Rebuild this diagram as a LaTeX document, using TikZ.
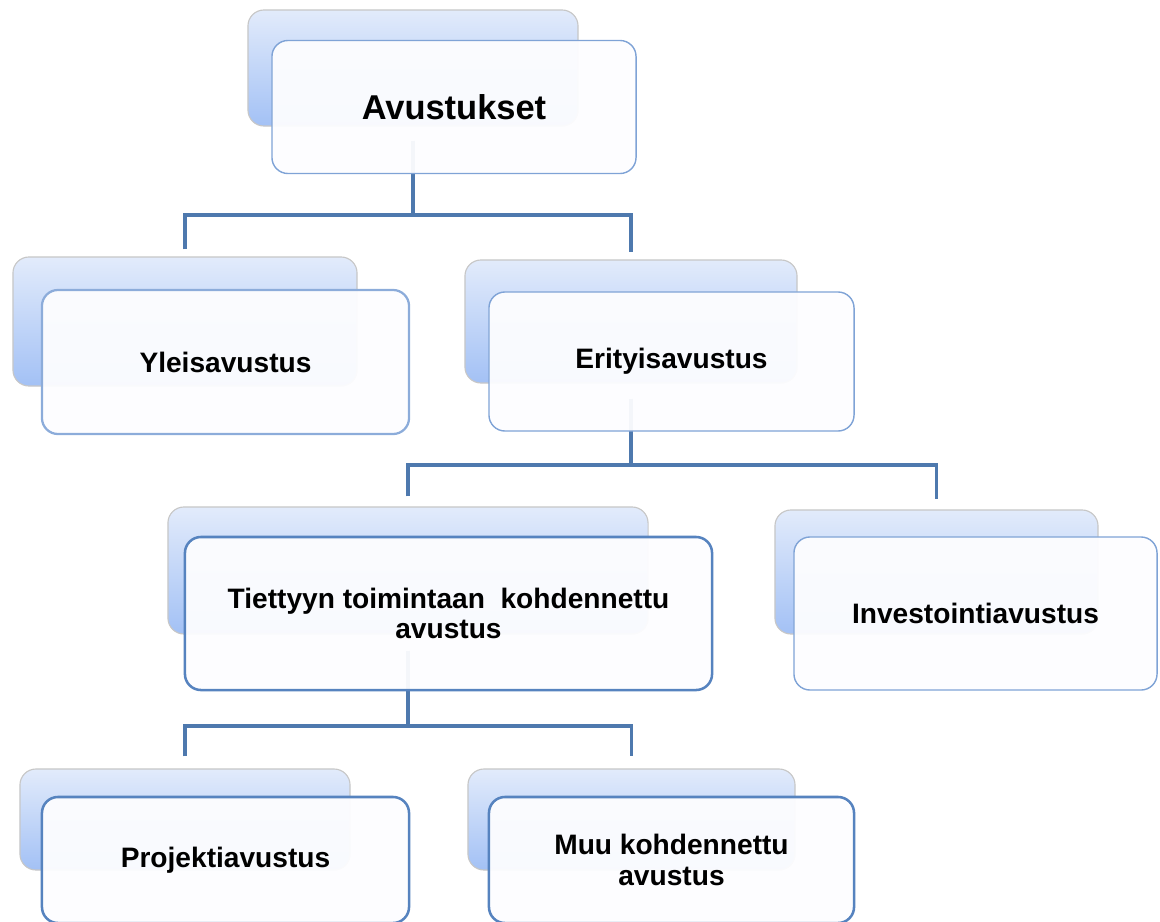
\documentclass[tikz,border=0pt]{standalone}
\usepackage{fontspec}
\setmainfont{Liberation Sans}
\usetikzlibrary{calc}

\definecolor{backtop}{HTML}{E2EBFB}
\definecolor{backbot}{HTML}{A3C1F5}
\definecolor{frontfill}{HTML}{FDFDFF}
\definecolor{lineblue}{HTML}{4E79AE}
\definecolor{edgelight}{HTML}{7FA3D6}
\definecolor{edgedark}{HTML}{5683BF}

\tikzset{
	backbox/.style={rounded corners=0.4cm, draw=black!22, line width=0.8pt, top color=backtop, bottom color=backbot},
	frontbox/.style={rounded corners=0.4cm, draw=edgelight, line width=1pt, fill=frontfill, fill opacity=0.95, text opacity=1, align=center, font=\bfseries\fontsize{20}{21.5}\selectfont},
	darkbox/.style={frontbox, draw=edgedark, line width=1.8pt},
	conn/.style={draw=lineblue, line width=2.3pt}
}

\begin{document}
\begin{tikzpicture}[x=0.025cm, y=-0.025cm]
			%%%%% START %%%%%
			
			\useasboundingbox (0,0) rectangle (1160,922);
			\clip (0,0) rectangle (1160,922);
			
			% back boxes
			\node[backbox, minimum width=8.25cm, minimum height=2.9cm] (avuB) at (413,68) {};
			\node[backbox, minimum width=8.6cm, minimum height=3.225cm] (yleB) at (185,321.5) {};
			\node[backbox, minimum width=8.3cm, minimum height=3.075cm] (eriB) at (631,321.5) {};
			\node[backbox, minimum width=12cm, minimum height=3.175cm] (tieB) at (408,570.5) {};
			\node[backbox, minimum width=8.075cm, minimum height=3.1cm] (invB) at (936.5,572) {};
			\node[backbox, minimum width=8.25cm, minimum height=2.525cm] (proB) at (185,819.5) {};
			\node[backbox, minimum width=8.175cm, minimum height=2.525cm] (muuB) at (631.5,819.5) {};
			
			% bus heights
			\coordinate (bus1) at (0,215);
			\coordinate (bus2) at (0,465);
			\coordinate (bus3) at (0,726);
			
			% connectors
			\draw[conn] ($(avuB.south)+(0,14)$) -- (avuB.south |- bus1);
			\draw[conn] ($(yleB.north)+(0,-7)$) |- (bus1 -| eriB.north) -- ($(eriB.north)+(0,-7)$);
			
			\draw[conn] ($(eriB.south)+(0,15)$) -- (eriB.south |- bus2);
			\draw[conn] ($(tieB.north)+(0,-10)$) |- (bus2 -| invB.north) -- ($(invB.north)+(0,-10)$);
			
			\draw[conn] ($(tieB.south)+(0,16)$) -- (tieB.south |- bus3);
			\draw[conn] ($(proB.north)+(0,-12)$) |- (bus3 -| muuB.north) -- ($(muuB.north)+(0,-12)$);
			
			% front boxes
			\node[frontbox, minimum width=9.1cm, minimum height=3.325cm, font=\bfseries\fontsize{24.5}{26}\selectfont] (avu) at (454,107) {Avustukset};
			\node[frontbox, line width=1.6pt, draw=edgelight!90, minimum width=9.175cm, minimum height=3.6cm] (yle) at (225.5,362) {Yleisavustus};
			\node[frontbox, minimum width=9.125cm, minimum height=3.475cm] (eri) at (671.5,361.5) {Erityisavustus};
			\node[darkbox, minimum width=13.175cm, minimum height=3.825cm] (tie) at (448.5,613.5) {Tiettyyn toimintaan~ kohdennettu\\avustus};
			\node[frontbox, minimum width=9.075cm, minimum height=3.825cm] (inv) at (975.5,613.5) {Investointiavustus};
			\node[darkbox, minimum width=9.175cm, minimum height=3.15cm] (pro) at (225.5,860) {Projektiavustus};
			\node[darkbox, minimum width=9.125cm, minimum height=3.15cm] (muu) at (671.5,860) {Muu kohdennettu\\avustus};
			
			%%%%% END %%%%%
\end{tikzpicture}
\end{document}
